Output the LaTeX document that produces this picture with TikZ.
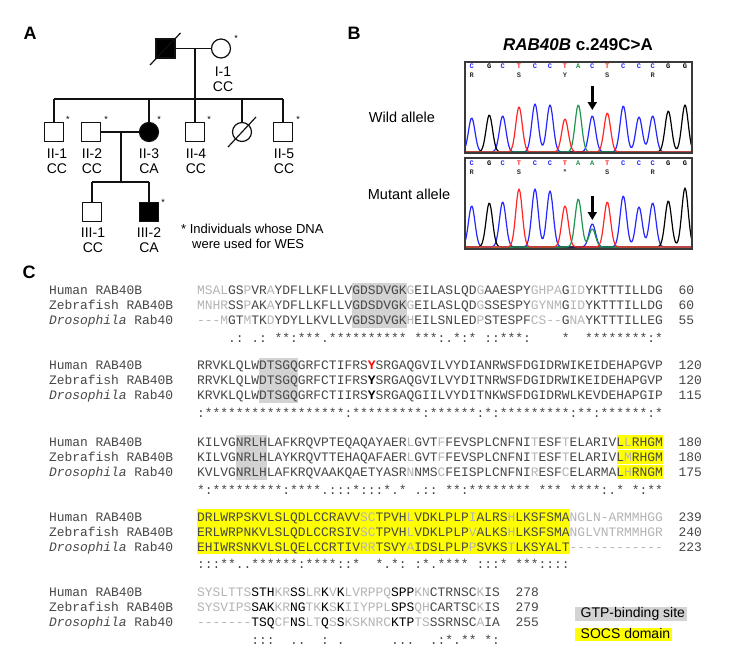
\documentclass[tikz,border=0pt]{standalone}
\usepackage{fontspec}
\setmainfont{Liberation Sans}
\setmonofont{Liberation Mono}
\usetikzlibrary{arrows.meta}
\definecolor{seqdark}{HTML}{474747}
\definecolor{seqlight}{HTML}{B4B4B4}
\definecolor{gtpgray}{HTML}{D3D3D3}
\definecolor{socsyellow}{HTML}{FFFF00}
\definecolor{chromblue}{HTML}{2626FF}
\definecolor{chromred}{HTML}{FF2626}
\definecolor{chromgreen}{HTML}{1E9650}
\definecolor{pedink}{HTML}{111111}
\definecolor{framegray}{HTML}{3A3A3A}
\newcommand\seqL[1]{\textcolor{seqlight}{#1}}
\newcommand\seqB[1]{\textcolor{black}{#1}}
\def\cw{7.77}
\def\sx{197}
\begin{document}
\begin{tikzpicture}[x=1pt,y=-1pt,
  declare function={g(\x,\m,\h)=\h*exp(-min(((\x-\m)/4.6)*((\x-\m)/4.6),9));},
  seq/.style={anchor=base west,inner sep=0pt,outer sep=0pt,text=seqdark,font=\ttfamily\fontsize{12.94}{15}\selectfont},
  panellab/.style={inner sep=0pt,font=\bfseries\fontsize{18}{18}\selectfont},
  male/.style={draw=pedink,line width=1.2pt,minimum size=19pt,inner sep=0pt,fill=white},
  female/.style={circle,draw=pedink,line width=1.2pt,minimum size=19pt,inner sep=0pt,fill=white},
  aff/.style={fill=black},
  pedline/.style={draw=pedink,line width=1.2pt},
  pedlab/.style={anchor=north,inner sep=0pt,align=center,font=\fontsize{14}{15}\selectfont},
  star/.style={inner sep=0pt,font=\fontsize{9}{9}\selectfont},
  baselet/.style={inner sep=0pt,font=\ttfamily\bfseries\fontsize{7}{7}\selectfont},
  trace/.style={line width=1.2pt,line join=round},
  frame/.style={draw=framegray,line width=1.4pt},
  mutarrow/.style={-{Triangle[length=8pt,width=9pt]},line width=2.6pt,black},
  gtpbox/.style={fill=gtpgray},
  socsbox/.style={fill=socsyellow},
  legtext/.style={anchor=base west,inner sep=0pt,font=\fontsize{14}{15}\selectfont}
]
\fill[white] (0,0) rectangle (744,656);
\useasboundingbox (0,0) rectangle (744,656);

% ---------------- Panel labels
\node[panellab] (pA) at (30,33) {A};
\node[panellab] (pB) at (354,33) {B};
\node[panellab] (pC) at (29,272) {C};

% ---------------- Pedigree
\node[male,aff] (I1m) at (165.5,48.5) {};
\node[female] (I1f) at (221,48.5) {};
\coordinate (I1sa) at (150,65);
\coordinate (I1sb) at (180.5,33);
\draw[pedline] (I1sa) -- (I1sb);
\draw[pedline] (I1m.east) -- (I1f.west);
\node[star] (sI1) at (236,38) {*};
\node[pedlab] (lI1) at (223,66.5) {I-1\\CC};
\coordinate (I1c) at (195,48.5);
\coordinate (I1s) at (195,99);
\draw[pedline] (I1c) -- (I1s);
\coordinate (sibL) at (54,99);
\coordinate (sibR) at (283,99);
\coordinate (sib3) at (149,99);
\coordinate (sibd) at (242,99);
\draw[pedline] (sibL) -- (sibR);

\node[male] (II1) at (54,132) {};
\node[male] (II2) at (91,132) {};
\node[female,aff] (II3) at (149,132) {};
\node[male] (II4) at (195,132) {};
\node[female] (IId) at (242,132) {};
\node[male] (II5) at (283,132) {};
\coordinate (IIdsa) at (228,147);
\coordinate (IIdsb) at (256,117);
\draw[pedline] (IIdsa) -- (IIdsb);
\draw[pedline] (sibL) -- (II1.north);
\draw[pedline] (sib3) -- (II3.north);
\draw[pedline] (I1s) -- (II4.north);
\draw[pedline] (sibd) -- (IId.north);
\draw[pedline] (sibR) -- (II5.north);
\node[star] (sII1) at (68,119) {*};
\node[star] (sII2) at (106,119) {*};
\node[star] (sII3) at (159,119) {*};
\node[star] (sII4) at (209,119) {*};
\node[star] (sII5) at (298,119) {*};
\node[pedlab] (lII1) at (57,148.5) {II-1\\CC};
\node[pedlab] (lII2) at (92,148.5) {II-2\\CC};
\node[pedlab] (lII3) at (149,148.5) {II-3\\CA};
\node[pedlab] (lII4) at (196,148.5) {II-4\\CC};
\node[pedlab] (lII5) at (284,148.5) {II-5\\CC};

\draw[pedline] (II2.east) -- (II3.west);
\coordinate (IIc) at (121,132);
\coordinate (IIs) at (121,182);
\draw[pedline] (IIc) -- (IIs);
\coordinate (sib3L) at (92,182);
\coordinate (sib3R) at (149,182);
\draw[pedline] (sib3L) -- (sib3R);
\node[male] (III1) at (92,212) {};
\node[male,aff] (III2) at (149,212) {};
\draw[pedline] (sib3L) -- (III1.north);
\draw[pedline] (sib3R) -- (III2.north);
\node[star] (sIII2) at (163,202) {*};
\node[pedlab] (lIII1) at (93,228) {III-1\\CC};
\node[pedlab] (lIII2) at (149,228) {III-2\\CA};

\node[anchor=north west,inner sep=0pt,align=left,font=\fontsize{13}{15}\selectfont] (note) at (181,223.5)
  {* Individuals whose DNA\\\hspace*{11pt}were used for WES};

% ---------------- Panel B
\node[inner sep=0pt,font=\bfseries\fontsize{17}{17}\selectfont] (btitle) at (578,45) {\textit{RAB40B} c.249C>A};
\node[inner sep=0pt,font=\fontsize{14.5}{15}\selectfont] (wild) at (402,117) {Wild allele};
\node[inner sep=0pt,font=\fontsize{14.5}{15}\selectfont] (mut) at (409,194) {Mutant allele};

\begin{scope}
\clip (465,62) rectangle (692,153);
\draw[trace,chromblue] plot[domain=465:692,samples=228] (\x,{152-(g(\x,471.7,34)+g(\x,502.7,36)+g(\x,535,48)+g(\x,550,47)+g(\x,592.3,36)+g(\x,623.3,46)+g(\x,639,35)+g(\x,652.7,36))});
\draw[trace,black] plot[domain=465:692,samples=228] (\x,{152-(g(\x,489.3,37)+g(\x,668.3,41)+g(\x,685,47))});
\draw[trace,chromgreen] plot[domain=465:692,samples=228] (\x,{152-(g(\x,578.3,47))});
\draw[trace,chromred] plot[domain=465:692,samples=228] (\x,{152-(g(\x,519,45)+g(\x,565,33)+g(\x,607.3,39))});
\end{scope}
\begin{scope}
\clip (465,158) rectangle (692,249);
\draw[trace,chromblue] plot[domain=465:692,samples=228] (\x,{247-(g(\x,471.7,41)+g(\x,502.7,45)+g(\x,535,58)+g(\x,550,56)+g(\x,592.3,23)+g(\x,623.3,51)+g(\x,639,40)+g(\x,652.7,44))});
\draw[trace,black] plot[domain=465:692,samples=228] (\x,{247-(g(\x,489.3,44)+g(\x,668.3,46)+g(\x,685,59))});
\draw[trace,chromgreen] plot[domain=465:692,samples=228] (\x,{247-(g(\x,578.3,48)+g(\x,592.3,18))});
\draw[trace,chromred] plot[domain=465:692,samples=228] (\x,{247-(g(\x,519,58)+g(\x,565,41)+g(\x,607.3,45))});
\end{scope}
\draw[frame] (465,62) rectangle (692,153);
\draw[frame] (465,158) rectangle (692,249);

\foreach \xx/\b/\col [count=\i] in {471.7/C/chromblue,489.3/G/black,502.7/C/chromblue,519/T/chromred,535/C/chromblue,550/C/chromblue,565/T/chromred,578.3/A/chromgreen,592.3/C/chromblue,607.3/T/chromred,623.3/C/chromblue,639/C/chromblue,652.7/C/chromblue,668.3/G/black,685/G/black}
  \node[baselet,text=\col] (w\i) at (\xx,66) {\b};
\foreach \xx/\b/\col [count=\i] in {471.7/C/chromblue,489.3/G/black,502.7/C/chromblue,519/T/chromred,535/C/chromblue,550/C/chromblue,565/T/chromred,578.3/A/chromgreen,592.3/A/chromgreen,607.3/T/chromred,623.3/C/chromblue,639/C/chromblue,652.7/C/chromblue,668.3/G/black,685/G/black}
  \node[baselet,text=\col] (m\i) at (\xx,162.7) {\b};
\foreach \xx/\b [count=\i] in {471.7/R,519/S,565/Y,607.3/S,652.7/R}
  \node[baselet,text=black!80] (wa\i) at (\xx,75) {\b};
\foreach \xx/\b [count=\i] in {471.7/R,519/S,565/*,607.3/S,652.7/R}
  \node[baselet,text=black!80] (ma\i) at (\xx,171.7) {\b};

\coordinate (ar1s) at (592.3,86);
\coordinate (ar1e) at (592.3,110);
\draw[mutarrow] (ar1s) -- (ar1e);
\coordinate (ar2s) at (592.3,196);
\coordinate (ar2e) at (592.3,220);
\draw[mutarrow] (ar2s) -- (ar2e);

% ---------------- Panel C backgrounds
\fill[gtpbox] ({\sx+20*\cw},283) rectangle ({\sx+27*\cw},328);
\fill[gtpbox] ({\sx+8*\cw},358) rectangle ({\sx+13*\cw},403);
\fill[gtpbox] ({\sx+5*\cw},434.5) rectangle ({\sx+9*\cw},479.5);
\foreach \c in {442,457,472}
  \fill[socsbox] ({\sx+54*\cw},\c-7.5) rectangle ({\sx+60*\cw},\c+6.8);
\foreach \c in {516.7,531.7,546.7}
  \fill[socsbox] (\sx,\c-7.5) rectangle ({\sx+48*\cw},\c+6.8);

% ---------------- Block 1
\node[seq] (l1h) at (49,294.8) {Human RAB40B};
\node[seq] (l1z) at (49,309.8) {Zebrafish RAB40B};
\node[seq] (l1d) at (49,324.8) {\textit{Drosophila} Rab40};
\node[seq] (s1h) at (\sx,294.8) {\seqL{MSAL}GS\seqL{P}VR\seqL{A}YDFLLKFLLVGDSDVGK\seqL{G}EILASLQD\seqL{G}AAESPY\seqL{GHPA}G\seqL{ID}YKTTTILLDG};
\node[seq] (s1z) at (\sx,309.8) {\seqL{MNHR}SS\seqL{P}AK\seqL{A}YDFLLKFLLVGDSDVGK\seqL{G}EILASLQD\seqL{G}SSESPY\seqL{GYNM}G\seqL{ID}YKTTTILLDG};
\node[seq] (s1d) at (\sx,324.8) {\seqL{---M}GT\seqL{M}TK\seqL{D}YDYLLKVLLVGDSDVGK\seqL{H}EILSNLED\seqL{P}STESPF\seqL{CS--}G\seqL{NA}YKTTTILLEG};
\node[seq] (s1c) at (\sx,342.5) {~~~~.:~.:~**:***.**********~***:.*:*~::***:~~~~*~~********:*};
\node[seq] (n1h) at (678.7,294.8) {60};
\node[seq] (n1z) at (678.7,309.8) {60};
\node[seq] (n1d) at (678.7,324.8) {55};

% ---------------- Block 2
\node[seq] (l2h) at (49,369.8) {Human RAB40B};
\node[seq] (l2z) at (49,384.8) {Zebrafish RAB40B};
\node[seq] (l2d) at (49,399.8) {\textit{Drosophila} Rab40};
\node[seq] (s2h) at (\sx,369.8) {RRVKLQLWDTSGQGRFCTIFRS\textcolor{red}{\textbf{Y}}SRGAQGVILVYDIANRWSFDGIDRWIKEIDEHAPGVP};
\node[seq] (s2z) at (\sx,384.8) {RRVKLQLWDTSGQGRFCTIFRS\textcolor{black}{\textbf{Y}}SRGAQGVILVYDITNRWSFDGIDRWIKEIDEHAPGVP};
\node[seq] (s2d) at (\sx,399.8) {KRVKLQLWDTSGQGRFCTIIRS\textcolor{black}{\textbf{Y}}SRGAQGIILVYDITNKWSFDGIDRWLKEVDEHAPGIP};
\node[seq] (s2c) at (\sx,417.5) {:******************:*********:******:*:*********:**:******:*};
\node[seq] (n2h) at (678.7,369.8) {120};
\node[seq] (n2z) at (678.7,384.8) {120};
\node[seq] (n2d) at (678.7,399.8) {115};

% ---------------- Block 3
\node[seq] (l3h) at (49,446.3) {Human RAB40B};
\node[seq] (l3z) at (49,461.3) {Zebrafish RAB40B};
\node[seq] (l3d) at (49,476.3) {\textit{Drosophila} Rab40};
\node[seq] (s3h) at (\sx,446.3) {KILVGNRLHLAFKRQVPTEQAQAYAER\seqL{L}GVT\seqL{F}FEVSPLCNFNI\seqL{T}ESF\seqL{T}ELARIVL\seqL{L}RHGM};
\node[seq] (s3z) at (\sx,461.3) {KILVGNRLHLAYKRQVTTEHAQAFAER\seqL{L}GVT\seqL{F}FEVSPLCNFNI\seqL{T}ESF\seqL{T}ELARIVL\seqL{M}RHGM};
\node[seq] (s3d) at (\sx,476.3) {KVLVGNRLHLAFKRQVAAKQAETYASR\seqL{N}NMS\seqL{C}FEISPLCNFNI\seqL{R}ESF\seqL{C}ELARMAL\seqL{H}RNGM};
\node[seq] (s3c) at (\sx,494) {*:*********:****.:::*:::*.*~.::~**:********~***~****:.*~*:**};
\node[seq] (n3h) at (678.7,446.3) {180};
\node[seq] (n3z) at (678.7,461.3) {180};
\node[seq] (n3d) at (678.7,476.3) {175};

% ---------------- Block 4
\node[seq] (l4h) at (49,521) {Human RAB40B};
\node[seq] (l4z) at (49,536) {Zebrafish RAB40B};
\node[seq] (l4d) at (49,551) {\textit{Drosophila} Rab40};
\node[seq] (s4h) at (\sx,521) {DRLWRPSKVLSLQDLCCRAVV\seqL{SC}TPVH\seqL{L}VDKLPLP\seqL{I}ALRS\seqL{H}LKSFSMA\seqL{NGLN-ARMMHGG}};
\node[seq] (s4z) at (\sx,536) {ERLWRPNKVLSLQDLCCRSIV\seqL{SC}TPVH\seqL{L}VDKLPLP\seqL{V}ALKS\seqL{H}LKSFSMA\seqL{NGLVNTRMMHGR}};
\node[seq] (s4d) at (\sx,551) {EHIWRSNKVLSLQELCCRTIV\seqL{RR}TSVY\seqL{A}IDSLPLP\seqL{P}SVKS\seqL{T}LKSYALT\seqL{------------}};
\node[seq] (s4c) at (\sx,568.7) {:::**..******:****::*~~*.*:~:*.****~:::*~***::::};
\node[seq] (n4h) at (678.7,521) {239};
\node[seq] (n4z) at (678.7,536) {240};
\node[seq] (n4d) at (678.7,551) {223};

% ---------------- Block 5
\node[seq] (l5h) at (49,596.3) {Human RAB40B};
\node[seq] (l5z) at (49,611.3) {Zebrafish RAB40B};
\node[seq] (l5d) at (49,626.3) {\textit{Drosophila} Rab40};
\node[seq] (s5h) at (\sx,596.3) {\seqL{SYSLTTS}\seqB{STH}\seqL{KR}\seqB{SS}\seqL{LR}\seqB{K}\seqL{V}\seqB{K}\seqL{LVRPPQ}\seqB{SPP}\seqL{KN}CTRNSC\seqL{K}IS};
\node[seq] (s5z) at (\sx,611.3) {\seqL{SYSVIPS}\seqB{SAK}\seqL{KR}\seqB{NG}\seqL{TK}\seqB{K}\seqL{S}\seqB{K}\seqL{IIYPPL}\seqB{SPS}\seqL{QH}CARTSC\seqL{K}IS};
\node[seq] (s5d) at (\sx,626.3) {\seqL{-------}\seqB{TSQ}\seqL{CF}\seqB{NS}\seqL{LT}\seqB{Q}\seqL{S}\seqB{S}\seqL{KSKNRC}\seqB{KTP}\seqL{TS}SSRNSC\seqL{A}IA};
\node[seq] (s5c) at (\sx,644) {~~~~~~~:::~~..~~:~.~~~~~~...~~.:*.**~*:};
\node[seq] (n5h) at (515.6,596.3) {278};
\node[seq] (n5z) at (515.6,611.3) {279};
\node[seq] (n5d) at (515.6,626.3) {255};

% ---------------- Legend
\fill[gtpbox] (575,607.3) rectangle (687,620.7);
\fill[socsbox] (575,628.3) rectangle (672,640.7);
\node[legtext] (leg1) at (580.5,617.6) {GTP-binding site};
\node[legtext] (leg2) at (580.5,638.3) {SOCS domain};
\end{tikzpicture}
\end{document}
